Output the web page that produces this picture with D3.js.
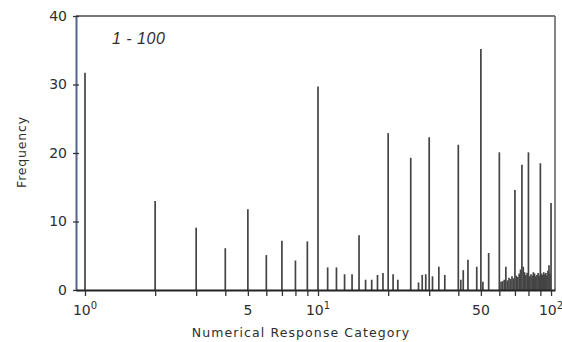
<!DOCTYPE html>
<html>
<head>
<meta charset="utf-8">
<script src="https://cdn.jsdelivr.net/npm/d3@7"></script>
<style>
  body { margin: 0; background: #fff; }
  svg { display: block; }
  text { font-family: 'DejaVu Sans', sans-serif; fill: #2e2e2e; }
  .bar { stroke: #444; stroke-width: 1.7; }
  .tick line { stroke: #333; stroke-width: 1.3; }
</style>
</head>
<body>
<svg width="562" height="342"></svg>
<script>
'use strict'

// response category (1-100) and how often it was given
const categories = [1, 2, 3, 4, 5, 6, 7, 8, 9, 10,
    11, 12, 13, 14, 15, 16, 17, 18, 19, 20,
    21, 22, 25, 27, 28, 29, 30, 31, 33, 35,
    40, 41, 42, 44, 48, 50, 51, 54, 60,
    61, 62, 63, 64, 65, 66, 67, 68, 69, 70,
    71, 72, 73, 74, 75, 76, 77, 78, 79, 80,
    81, 82, 83, 84, 85, 86, 87, 88, 89, 90,
    91, 92, 93, 94, 95, 96, 97, 98, 99, 100]
const frequency = [31.7, 13.0, 9.1, 6.1, 11.8, 5.1, 7.2, 4.3, 7.1, 29.7,
    3.3, 3.3, 2.3, 2.3, 8.0, 1.5, 1.5, 2.2, 2.5, 22.9,
    2.3, 1.5, 19.3, 1.1, 2.2, 2.3, 22.3, 2.0, 3.4, 2.2,
    21.2, 1.5, 2.9, 4.4, 3.4, 35.2, 1.2, 5.4, 20.1,
    1.2, 1.3, 1.5, 3.4, 1.4, 1.8, 1.6, 2.0, 1.7, 14.6,
    2.1, 1.9, 2.4, 3.0, 18.3, 3.4, 2.6, 2.2, 2.5, 20.1,
    2.0, 2.3, 2.1, 2.6, 2.4, 2.0, 2.2, 2.5, 2.1, 18.5,
    2.4, 2.2, 2.6, 2.3, 2.5, 2.1, 2.8, 3.6, 2.4, 12.7]

const xTicks = [1, 2, 3, 4, 5, 6, 7, 8, 9, 10, 20, 30, 40, 50, 60, 70, 80, 90, 100]
const xLabelAt = [1, 5, 10, 50, 100]
const xLabelBase = ['10', '5', '10', '50', '10']
const xLabelSup = ['0', '', '1', '', '2']
const yTicks = [0, 10, 20, 30, 40]

const svg = d3.select('svg')

const plotLeft = 76, plotRight = 555, plotTop = 16, plotBottom = 290

const x = d3.scaleLog()
    .domain([0.915, 104])
    .range([plotLeft, plotRight])

const y = d3.scaleLinear()
    .domain([0, 40])
    .range([plotBottom, plotTop])

// frame (top + right in lighter grey, left a bit bluish like the scan)
svg.append('line')
    .attr('x1', plotLeft).attr('x2', plotRight)
    .attr('y1', plotTop).attr('y2', plotTop)
    .attr('stroke', '#777').attr('stroke-width', 2)
svg.append('line')
    .attr('x1', plotRight).attr('x2', plotRight)
    .attr('y1', plotTop).attr('y2', plotBottom)
    .attr('stroke', '#777').attr('stroke-width', 1.8)

// bars
svg.append('g')
    .selectAll('line')
    .data(categories.map((c, i) => ({ c: c, f: frequency[i] })))
    .enter()
    .append('line')
    .attr('class', 'bar')
    .attr('x1', (d) => x(d.c))
    .attr('x2', (d) => x(d.c))
    .attr('y1', y(0))
    .attr('y2', (d) => y(d.f))

// y axis
const yAxis = svg.append('g')
    .attr('transform', `translate(${plotLeft}, 0)`)
    .call(d3.axisLeft(y)
        .tickValues(yTicks)
        .tickSizeInner(-6)
        .tickSizeOuter(0)
        .tickPadding(9)
        .tickFormat(d3.format('d')))
yAxis.select('.domain').attr('stroke', '#56638f').attr('stroke-width', 2)
yAxis.selectAll('.tick line').attr('transform', 'translate(-3, 0)')
yAxis.selectAll('text').style('font-size', '14px').attr('fill', '#2e2e2e')

// x axis
const xAxis = svg.append('g')
    .attr('transform', `translate(0, ${plotBottom})`)
    .call(d3.axisBottom(x)
        .tickValues(xTicks)
        .tickSizeInner(6)
        .tickSizeOuter(0)
        .tickFormat(''))
xAxis.select('.domain').attr('stroke', '#222').attr('stroke-width', 2)

const lab = svg.append('g')
    .selectAll('text')
    .data(xLabelAt)
    .enter()
    .append('text')
    .attr('x', (d) => x(d))
    .attr('y', 315)
    .attr('text-anchor', 'middle')
    .style('font-size', '14px')
lab.append('tspan').text((d, i) => xLabelBase[i])
lab.append('tspan')
    .attr('dy', -6)
    .style('font-size', '10px')
    .text((d, i) => xLabelSup[i])

svg.append('text')
    .attr('x', 301)
    .attr('y', 337)
    .attr('text-anchor', 'middle')
    .style('font-size', '12.5px')
    .style('letter-spacing', '1.1px')
    .text('Numerical Response Category')

svg.append('text')
    .attr('transform', 'translate(26, 152) rotate(-90)')
    .attr('text-anchor', 'middle')
    .style('font-size', '12.5px')
    .style('letter-spacing', '0.8px')
    .text('Frequency')

// hand-lettered range note
svg.append('text')
    .attr('x', 112)
    .attr('y', 44)
    .style('font-family', "'Liberation Sans', sans-serif")
    .style('font-size', '16px')
    .style('font-style', 'italic')
    .style('letter-spacing', '0.5px')
    .attr('fill', '#444')
    .text('1 - 100')
</script>
</body>
</html>
